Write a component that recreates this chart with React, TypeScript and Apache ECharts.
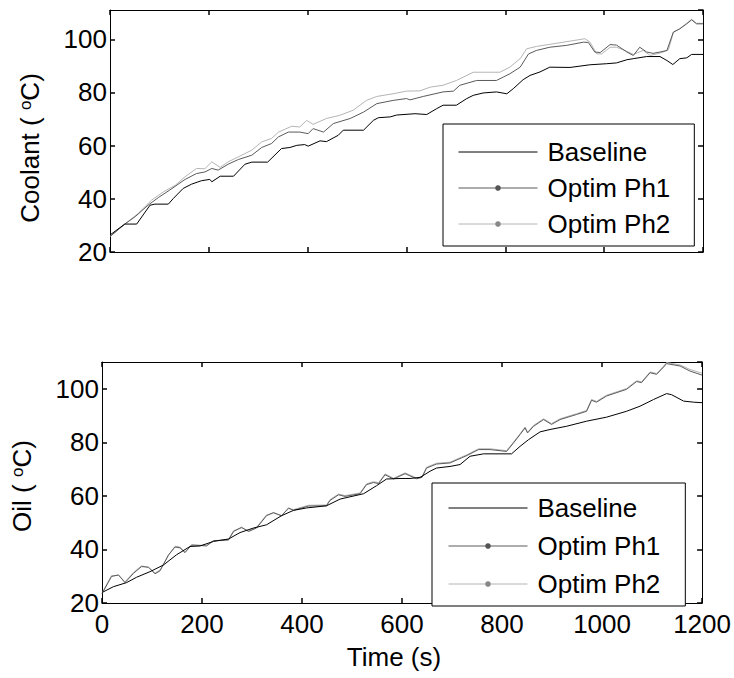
import React, { useEffect, useRef } from "react";
import * as echarts from "echarts";

const FONT = "Liberation Sans, Arial, Helvetica, sans-serif";
const FS = 26;

const xTicks = [0, 200, 400, 600, 800, 1000, 1200];
const legendNames = ["Baseline", "Optim Ph1", "Optim Ph2"];

const coolantBaseline = [
  [0, 26.4], [30, 30.5], [54, 30.5], [81, 37.6], [91, 38], [118, 38], [128, 40.1], [148, 43.9],
  [165, 45.5], [185, 46.8], [202, 47.3], [206, 46.4], [223, 48.5], [250, 48.5], [273, 53], [287, 53.8],
  [319, 53.8], [347, 58.9], [364, 59.3], [378, 60.1], [394, 60.4], [401, 59.8], [425, 61.8], [438, 61.5],
  [462, 63.9], [472, 65.8], [513, 65.8], [533, 69.5], [543, 70.5], [567, 70.8], [580, 71.5], [617, 72],
  [641, 71.7], [661, 73.9], [674, 75.2], [701, 75.2], [722, 77.7], [735, 78.9], [755, 79.8], [782, 80.2],
  [803, 79.5], [816, 81.4], [836, 84.8], [850, 86.4], [870, 87.7], [890, 89.5], [931, 89.4], [951, 89.9],
  [971, 90.4], [1005, 90.8], [1025, 91.1], [1046, 92.3], [1059, 92.7], [1086, 93.5], [1113, 93.5],
  [1127, 92], [1139, 90.5], [1153, 92.7], [1167, 93], [1177, 94.3], [1200, 94.3],
];

const coolantPh1 = [
  [0, 25.8], [30, 30.5], [51, 33.3], [77, 37.6], [98, 40.5], [121, 43.3], [152, 47.3], [175, 49.5],
  [192, 50.1], [206, 51.4], [219, 50.8], [239, 53], [260, 54.8], [287, 56.4], [307, 59.3], [327, 60.8],
  [341, 63.3], [361, 65.1], [384, 65.1], [401, 64.5], [411, 66.4], [432, 65.1], [452, 68.3], [486, 70.2],
  [513, 72.6], [540, 75.8], [573, 77], [600, 77.7], [607, 77.2], [634, 78.5], [674, 80.2], [695, 80.5],
  [708, 82.7], [742, 84.5], [782, 84.5], [796, 85.8], [809, 87], [830, 89.5], [847, 94.5], [863, 95.8],
  [890, 97], [924, 97.7], [958, 98.9], [968, 98.8], [981, 95.2], [992, 95], [1012, 98], [1025, 97.8],
  [1046, 95.2], [1059, 93.9], [1072, 97], [1086, 95.2], [1099, 94.7], [1113, 95.2], [1127, 95.8],
  [1140, 102.7], [1153, 103.9], [1167, 105.8], [1177, 107.3], [1187, 105.8], [1200, 105.8],
];

const coolantPh2 = [
  [0, 25.8], [30, 30.5], [57, 34.5], [84, 39.5], [108, 42.6], [132, 45.1], [152, 48.3], [175, 51.4],
  [192, 51.3], [206, 53.9], [223, 51.8], [239, 53.9], [260, 55.8], [287, 58.3], [307, 61.4], [327, 62.7],
  [341, 65.1], [368, 67.3], [384, 67], [398, 69.5], [411, 68], [438, 70.2], [465, 71.4], [492, 73.3],
  [519, 77], [540, 78.5], [573, 79.5], [600, 80.5], [627, 80.6], [648, 82], [674, 82.7], [701, 84.5],
  [735, 87.6], [789, 87.6], [809, 89.5], [830, 92.7], [843, 96.4], [863, 97.3], [897, 98.3], [931, 99.3],
  [961, 100.2], [971, 99], [985, 94.5], [995, 94.5], [1012, 97], [1025, 97], [1042, 95.8], [1059, 94.3],
  [1079, 95.8], [1093, 93.9], [1106, 94.5], [1120, 95.2], [1130, 96], [1140, 102.5], [1153, 104],
  [1167, 106], [1177, 107.5], [1187, 106], [1200, 106],
];

const oilBaseline = [
  [0, 24], [3, 24.2], [23, 26.1], [49, 27.6], [69, 29.6], [96, 31.7], [123, 34.2], [149, 38], [176, 41.1],
  [196, 41.3], [223, 43], [253, 43.9], [276, 46.3], [303, 48], [329, 49.2], [359, 52.6], [383, 54.6],
  [409, 55.5], [449, 56.3], [476, 58.8], [523, 60.8], [549, 63.8], [569, 66.3], [596, 66.5], [616, 66.5],
  [636, 66.9], [656, 69.2], [669, 70.4], [696, 71], [716, 71.7], [736, 74.8], [763, 75.7], [819, 75.7],
  [836, 78.5], [853, 81], [876, 83.9], [896, 84.8], [929, 86], [969, 87.9], [1009, 89.4], [1049, 91.6],
  [1076, 93.5], [1103, 96], [1129, 98.2], [1139, 97.8], [1163, 95.4], [1183, 95], [1200, 94.8],
];

const oilPh1 = [
  [0, 23.5], [19, 29.9], [33, 30.5], [46, 27.6], [63, 31.1], [79, 33.6], [93, 33.4], [106, 30.9],
  [116, 32], [133, 38], [146, 40.9], [156, 40.6], [166, 38.8], [179, 41.7], [209, 41.3], [223, 43.3],
  [253, 43.5], [263, 46.7], [279, 48.3], [293, 46.7], [309, 48], [329, 52.6], [343, 53.8], [359, 52.5],
  [373, 55.5], [383, 54.6], [413, 56.2], [449, 56.3], [456, 58.3], [473, 60.4], [486, 59.8], [516, 60.8],
  [529, 64.2], [543, 65], [553, 64.6], [566, 67.9], [583, 66.3], [606, 68.3], [629, 66.4], [640, 66.9],
  [649, 70.4], [669, 71.9], [696, 72.3], [719, 74.2], [730, 75.1], [753, 77.3], [776, 77.3], [809, 76.6],
  [823, 79.8], [836, 82.9], [846, 85.4], [851, 83.5], [863, 86], [883, 88.5], [899, 86.7], [916, 88.5],
  [949, 90.4], [969, 91.6], [979, 95.7], [989, 95], [1009, 97.3], [1049, 99.8], [1069, 102.7],
  [1079, 102.3], [1096, 106], [1109, 105.4], [1123, 108.1], [1129, 109.4], [1156, 108.5], [1176, 106.6],
  [1200, 105.1],
];

const oilPh2 = [
  [0, 23.7], [19, 30.2], [33, 30.3], [46, 27.9], [63, 31.4], [79, 33.9], [93, 33.2], [106, 31.2],
  [116, 32.3], [133, 37.7], [146, 41.2], [156, 40.9], [166, 39.1], [179, 41.5], [209, 41.6], [223, 43.1],
  [253, 43.8], [263, 47], [279, 48], [293, 47], [309, 48.3], [329, 52.9], [343, 53.5], [359, 52.8],
  [373, 55.2], [383, 54.9], [413, 56.5], [449, 56.6], [456, 58.6], [473, 60.7], [486, 60.1], [516, 61.1],
  [529, 64.5], [543, 65.3], [553, 64.9], [566, 68.2], [583, 66.6], [606, 68.6], [629, 66.7], [640, 67.2],
  [649, 70.7], [669, 72.2], [696, 72.6], [719, 74.5], [730, 75.4], [753, 77.6], [776, 77.6], [809, 76.9],
  [823, 80.1], [836, 83.2], [846, 85.7], [851, 83.8], [863, 86.3], [883, 88.8], [899, 87], [916, 88.8],
  [949, 90.7], [969, 91.9], [979, 96], [989, 95.3], [1009, 97.6], [1049, 100.1], [1069, 103],
  [1079, 102.6], [1096, 106.3], [1109, 105.7], [1123, 108.4], [1129, 109.8], [1156, 108.9], [1176, 107.2],
  [1200, 105.8],
];

const baseAxis = (gridIndex: number, position: string, showLabels: boolean, min: number, max: number, interval: number) => ({
  type: "value",
  gridIndex,
  position,
  min,
  max,
  interval,
  splitLine: { show: false },
  axisLine: { show: true, onZero: false, lineStyle: { color: "#000", width: 1 } },
  axisTick: { show: true, inside: true, length: 5, lineStyle: { color: "#000", width: 1.5 } },
  axisLabel: {
    show: showLabels,
    color: "#000",
    fontFamily: FONT,
    fontSize: FS,
    margin: position === "bottom" ? 8 : 3,
    showMaxLabel: position === "bottom" ? true : false,
    formatter: (v: number) => String(v),
  },
});

const lineSeries = (name: string, data: number[][], xi: number, lineColor: string, dotColor: string, z: number) => ({
  type: "line",
  name,
  data,
  xAxisIndex: xi,
  yAxisIndex: xi,
  showSymbol: false,
  symbol: "circle",
  symbolSize: 5,
  itemStyle: { color: dotColor },
  lineStyle: { color: lineColor, width: 1 },
  z,
});

const legendCfg = (left: number, top: number, padding: number[], itemGap: number) => ({
  orient: "vertical",
  left,
  top,
  padding,
  itemGap,
  itemWidth: 79,
  itemHeight: 7,
  borderColor: "#000",
  borderWidth: 1,
  backgroundColor: "#fff",
  selectedMode: false,
  lineStyle: { width: 1 },
  data: [
    { name: legendNames[0], itemStyle: { color: "rgba(0,0,0,0)", borderWidth: 0 }, lineStyle: { color: "#000", width: 1 } },
    { name: legendNames[1], itemStyle: { color: "#555" }, lineStyle: { color: "#5a5a5a", width: 1 } },
    { name: legendNames[2], itemStyle: { color: "#888" }, lineStyle: { color: "#b4b4b4", width: 1 } },
  ],
  textStyle: { fontFamily: FONT, fontSize: FS, color: "#000", lineHeight: 25, padding: [0, 0, 0, 5] },
});

export default function App() {
  const ref = useRef<HTMLDivElement>(null);
  useEffect(() => {
    if (!ref.current) return;
    const chart = echarts.init(ref.current, null, { renderer: "svg" });
    const option: any = {
      animation: false,
      backgroundColor: "#fff",
      grid: [
        { left: 110, top: 10, width: 593, height: 242, containLabel: false },
        { left: 102, top: 362, width: 601, height: 241, containLabel: false },
      ],
      xAxis: [
        baseAxis(0, "bottom", false, xTicks[0], xTicks[xTicks.length - 1], 200),
        baseAxis(0, "top", false, xTicks[0], xTicks[xTicks.length - 1], 200),
        baseAxis(1, "bottom", true, xTicks[0], xTicks[xTicks.length - 1], 200),
        baseAxis(1, "top", false, xTicks[0], xTicks[xTicks.length - 1], 200),
      ],
      yAxis: [
        baseAxis(0, "left", true, 20, 111, 20),
        baseAxis(0, "right", false, 20, 111, 20),
        baseAxis(1, "left", true, 20, 110, 20),
        baseAxis(1, "right", false, 20, 110, 20),
      ],
      legend: [
        legendCfg(443, 124, [15, 24, 9, 15], 10),
        legendCfg(432, 483, [12, 25, 9, 16], 12),
      ],
      series: [
        lineSeries("Baseline", coolantBaseline, 0, "#000", "#000", 4),
        lineSeries("Optim Ph2", coolantPh2, 0, "#b4b4b4", "#888", 2),
        lineSeries("Optim Ph1", coolantPh1, 0, "#5a5a5a", "#555", 3),
        lineSeries("Baseline", oilBaseline, 2, "#000", "#000", 4),
        lineSeries("Optim Ph2", oilPh2, 2, "#b4b4b4", "#888", 2),
        lineSeries("Optim Ph1", oilPh1, 2, "#5a5a5a", "#555", 3),
      ],
      graphic: [
        {
          type: "text",
          x: 30,
          y: 148,
          rotation: Math.PI / 2,
          style: {
            text: "Coolant ( {sup|o}C)",
            fontFamily: FONT,
            fontSize: FS,
            fill: "#000",
            align: "center",
            verticalAlign: "middle",
            rich: { sup: { fontSize: 17, fontFamily: FONT, verticalAlign: "top", lineHeight: 16, fill: "#000" } },
          },
        },
        {
          type: "text",
          x: 22,
          y: 486,
          rotation: Math.PI / 2,
          style: {
            text: "Oil ( {sup|o}C)",
            fontFamily: FONT,
            fontSize: FS,
            fill: "#000",
            align: "center",
            verticalAlign: "middle",
            rich: { sup: { fontSize: 17, fontFamily: FONT, verticalAlign: "top", lineHeight: 16, fill: "#000" } },
          },
        },
        {
          type: "text",
          x: 394,
          y: 657,
          style: {
            text: "Time (s)",
            fontFamily: FONT,
            fontSize: FS,
            fill: "#000",
            align: "center",
            verticalAlign: "middle",
          },
        },
      ],
    };
    chart.setOption(option);
    return () => chart.dispose();
  }, []);
  return <div ref={ref} style={{ position: "fixed", left: 0, top: 0, width: 734, height: 678 }} />;
}
